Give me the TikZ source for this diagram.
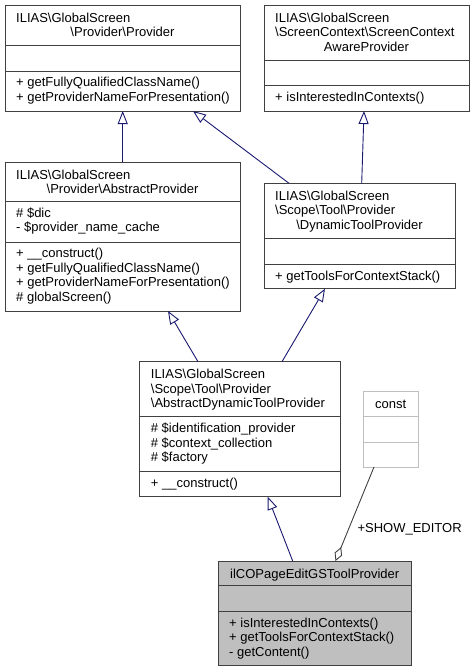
\documentclass[tikz,border=0pt]{standalone}
\usepackage{fontspec}
\setmainfont{Liberation Sans}
\usetikzlibrary{arrows.meta}
\definecolor{edgeblue}{HTML}{191970}
\definecolor{boxline}{HTML}{404040}
\definecolor{grayfill}{HTML}{BFBFBF}
\newcommand{\bs}{\textbackslash}
\tikzset{
  umlbox/.style={draw=boxline, line width=1pt, fill=white, anchor=north west, inner sep=0pt, outer sep=0pt},
  txt/.style={anchor=base west, inner sep=0pt, font=\fontsize{13pt}{14.5pt}\selectfont},
  ctxt/.style={anchor=base, inner sep=0pt, font=\fontsize{13pt}{14.5pt}\selectfont},
  sepline/.style={draw=boxline, line width=1pt},
  inherit/.style={draw=edgeblue, line width=0.9pt, -{Triangle[open, length=13pt, width=10pt, fill=white]}},
  usage/.style={draw=boxline, line width=0.9pt, -{Diamond[open, length=15pt, width=8pt, fill=white]}}
}
\begin{document}
\begin{tikzpicture}[x=1pt,y=-1pt]
\useasboundingbox (0,0) rectangle (474,672);

% Box A
\node[umlbox, minimum width=235pt, minimum height=105.5pt] (A) at (5,5.5) {};
\draw[sepline] ([yshift=-40pt]A.north west) -- ([yshift=-40pt]A.north east);
\draw[sepline] ([yshift=-65.5pt]A.north west) -- ([yshift=-65.5pt]A.north east);
\node[txt] (a1) at (16,22) {ILIAS\bs GlobalScreen};
\node[ctxt] (a2) at (122.5,36.5) {\bs Provider\bs Provider};
\node[txt] (a3) at (16,86.5) {+ getFullyQualifiedClassName()};
\node[txt] (a4) at (16,101) {+ getProviderNameForPresentation()};

% Box B
\node[umlbox, minimum width=205pt, minimum height=105.5pt] (B) at (264,5.5) {};
\draw[sepline] ([yshift=-55.2pt]B.north west) -- ([yshift=-55.2pt]B.north east);
\draw[sepline] ([yshift=-80.2pt]B.north west) -- ([yshift=-80.2pt]B.north east);
\node[txt] (b1) at (275,22) {ILIAS\bs GlobalScreen};
\node[txt] (b2) at (275,36.5) {\bs ScreenContext\bs ScreenContext};
\node[ctxt] (b3) at (366.5,51) {AwareProvider};
\node[txt] (b4) at (275,101) {+ isInterestedInContexts()};

% Box C
\node[umlbox, minimum width=235pt, minimum height=149pt] (C) at (5,162) {};
\draw[sepline] ([yshift=-39.7pt]C.north west) -- ([yshift=-39.7pt]C.north east);
\draw[sepline] ([yshift=-80pt]C.north west) -- ([yshift=-80pt]C.north east);
\node[txt] (c1) at (16,179) {ILIAS\bs GlobalScreen};
\node[ctxt] (c2) at (122.5,193.5) {\bs Provider\bs AbstractProvider};
\node[txt] (c3) at (16,217.2) {\# \$dic};
\node[txt] (c4) at (16,231.7) {- \$provider\_name\_cache};
\node[txt] (c5) at (16,257.5) {+ \_\_construct()};
\node[txt] (c6) at (16,272) {+ getFullyQualifiedClassName()};
\node[txt] (c7) at (16,286.5) {+ getProviderNameForPresentation()};
\node[txt] (c8) at (16,301) {\# globalScreen()};

% Box D
\node[umlbox, minimum width=191pt, minimum height=105.4pt] (D) at (264,183.3) {};
\draw[sepline] ([yshift=-55.4pt]D.north west) -- ([yshift=-55.4pt]D.north east);
\draw[sepline] ([yshift=-81pt]D.north west) -- ([yshift=-81pt]D.north east);
\node[txt] (d1) at (275,200.3) {ILIAS\bs GlobalScreen};
\node[txt] (d2) at (275,214.8) {\bs Scope\bs Tool\bs Provider};
\node[ctxt] (d3) at (359.5,229.3) {\bs DynamicToolProvider};
\node[txt] (d4) at (275,280) {+ getToolsForContextStack()};

% Box E
\node[umlbox, minimum width=200.3pt, minimum height=135pt] (E) at (139.7,361.7) {};
\draw[sepline] ([yshift=-55pt]E.north west) -- ([yshift=-55pt]E.north east);
\draw[sepline] ([yshift=-110pt]E.north west) -- ([yshift=-110pt]E.north east);
\node[txt] (e1) at (150.7,378.7) {ILIAS\bs GlobalScreen};
\node[txt] (e2) at (150.7,393.2) {\bs Scope\bs Tool\bs Provider};
\node[txt] (e3) at (150.7,407.7) {\bs AbstractDynamicToolProvider};
\node[txt] (e4) at (150.7,432.5) {\# \$identification\_provider};
\node[txt] (e5) at (150.7,447) {\# \$context\_collection};
\node[txt] (e6) at (150.7,461.5) {\# \$factory};
\node[txt] (e7) at (150.7,487.5) {+ \_\_construct()};

% Box K (const)
\node[umlbox, draw=grayfill, minimum width=54.7pt, minimum height=76pt] (K) at (363.3,391) {};
\draw[sepline, draw=grayfill] ([yshift=-25.7pt]K.north west) -- ([yshift=-25.7pt]K.north east);
\draw[sepline, draw=grayfill] ([yshift=-51pt]K.north west) -- ([yshift=-51pt]K.north east);
\node[ctxt] (k1) at (390.7,408) {const};

% Box F
\node[umlbox, fill=grayfill, minimum width=193.3pt, minimum height=104.7pt] (F) at (218,561) {};
\draw[sepline] ([yshift=-24.7pt]F.north west) -- ([yshift=-24.7pt]F.north east);
\draw[sepline] ([yshift=-50.3pt]F.north west) -- ([yshift=-50.3pt]F.north east);
\node[ctxt] (f1) at (314.7,578) {ilCOPageEditGSToolProvider};
\node[txt] (f2) at (229,627) {+ isInterestedInContexts()};
\node[txt] (f3) at (229,641.5) {+ getToolsForContextStack()};
\node[txt] (f4) at (229,656) {- getContent()};

% Connectors
\draw[inherit] ([xshift=117.7pt]C.north west) -- ([xshift=117.7pt]A.south west);
\draw[inherit] ([xshift=25pt]D.north west) -- ([xshift=188pt]A.south west);
\draw[inherit] ([xshift=97.7pt]D.north west) -- ([xshift=100pt]B.south west);
\draw[inherit] ([xshift=58.3pt]E.north west) -- ([xshift=163pt]C.south west);
\draw[inherit] ([xshift=142.3pt]E.north west) -- ([xshift=61pt]D.south west);
\draw[inherit] ([xshift=74.7pt]F.north west) -- ([xshift=128pt]E.south west);
\draw[usage] ([xshift=10.7pt]K.south west) -- ([xshift=117.5pt]F.north west);
\node[txt] (lbl) at (357.3,532.5) {+SHOW\_EDITOR};
\end{tikzpicture}
\end{document}
